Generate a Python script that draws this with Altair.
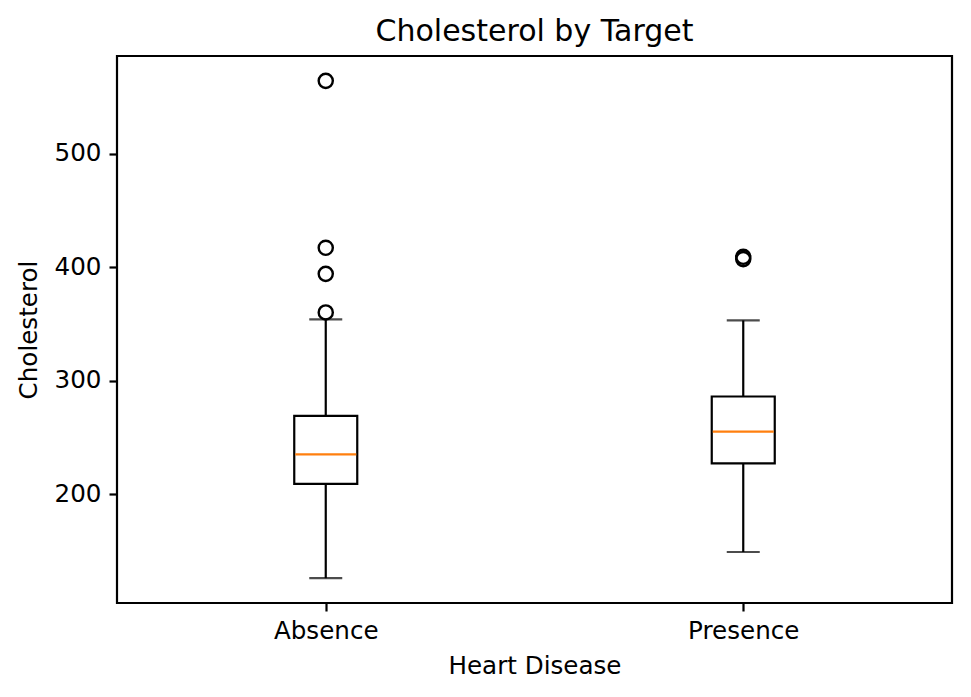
import altair as alt
import pandas as pd

categories = ["Absence", "Presence"]
q1 = [209, 227]
median = [235, 255]
q3 = [269, 286]
whisker_low = [126, 149]
whisker_high = [354, 353]
outlier_groups = ["Absence", "Absence", "Absence", "Absence", "Presence", "Presence"]
outlier_values = [564, 417, 394, 360, 407, 409]

stats = pd.DataFrame({
    "group": categories, "q1": q1, "median": median, "q3": q3,
    "lo": whisker_low, "hi": whisker_high,
})
outs = pd.DataFrame({"group": outlier_groups, "value": outlier_values})

FONT = "DejaVu Sans"
FS = 24.6
LW = 2.2
x = alt.X("group:N", scale=alt.Scale(type="point", padding=0.5, domain=categories),
          title="Heart Disease",
          axis=alt.Axis(labelAngle=0, grid=False, domain=False, tickColor="black",
                        tickSize=8, tickWidth=LW, labelPadding=8, labelColor="black",
                        labelFontSize=FS, titleFontSize=FS, labelFont=FONT, titleFont=FONT,
                        titleFontWeight="normal", titleColor="black", titlePadding=12))
yscale = alt.Scale(domain=[104.1, 585.9], nice=False, zero=False)
yaxis = alt.Axis(values=[200, 300, 400, 500], grid=False, domain=False, tickColor="black",
                 tickSize=8, tickWidth=LW, labelPadding=8, labelColor="black",
                 labelFontSize=FS, titleFontSize=FS, labelFont=FONT, titleFont=FONT,
                 titleFontWeight="normal", titleColor="black", titlePadding=13)

base = alt.Chart(stats)
whisk_lo = base.mark_rule(color="black", strokeWidth=LW).encode(
    x=x, y=alt.Y("lo:Q", scale=yscale, axis=yaxis, title="Cholesterol"), y2="q1:Q")
whisk_hi = base.mark_rule(color="black", strokeWidth=LW).encode(
    x=x, y=alt.Y("q3:Q", scale=yscale), y2="hi:Q")
box = base.mark_bar(size=63, fill="white", stroke="black", strokeWidth=LW).encode(
    x=x, y=alt.Y("q1:Q", scale=yscale), y2="q3:Q")
cap_lo = base.mark_tick(size=33, thickness=LW, color="black").encode(
    x=x, y=alt.Y("lo:Q", scale=yscale))
cap_hi = base.mark_tick(size=33, thickness=LW, color="black").encode(
    x=x, y=alt.Y("hi:Q", scale=yscale))
med = base.mark_tick(size=61, thickness=LW, color="#ff7f0e", opacity=1).encode(
    x=x, y=alt.Y("median:Q", scale=yscale))
pts = alt.Chart(outs).mark_point(shape="circle", filled=False, color="black",
                                 strokeWidth=2.4, size=200, opacity=1).encode(
    x=x, y=alt.Y("value:Q", scale=yscale))

chart = alt.layer(whisk_lo, whisk_hi, box, cap_lo, cap_hi, med, pts).properties(
    width=835, height=547,
    title=alt.TitleParams("Cholesterol by Target", fontSize=30, font=FONT,
                          fontWeight="normal", color="black", offset=9),
    autosize=alt.AutoSizeParams(type="none"),
    padding={"left": 109, "top": 48, "right": 11, "bottom": 86},
).configure(background="white").configure_view(stroke="black", strokeWidth=LW)

chart.save("out.html", embed_options={"renderer": "svg", "actions": False})
